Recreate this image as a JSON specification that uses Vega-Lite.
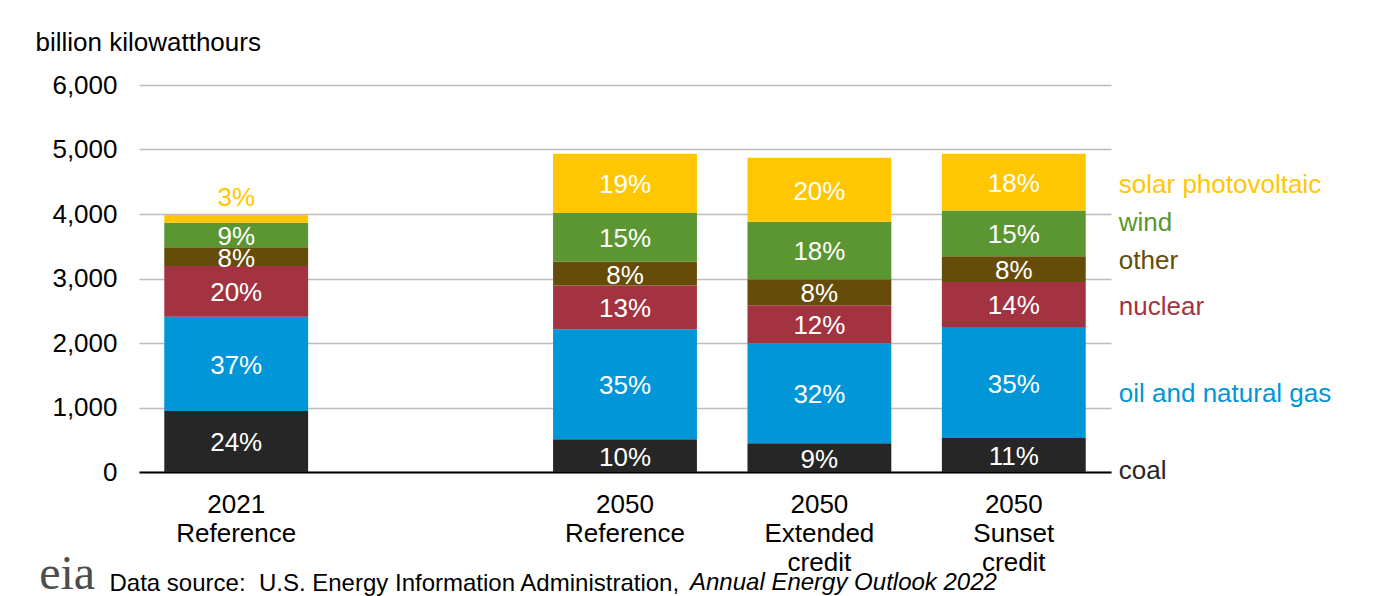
{
  "$schema": "https://vega.github.io/schema/vega-lite/v6.json",
  "autosize": {"type": "none"},
  "padding": {"left": 139, "top": 85, "right": 265, "bottom": 124},
  "width": 972,
  "height": 387,
  "background": "#ffffff",
  "config": {
    "font": "Liberation Sans",
    "view": {"stroke": null},
    "text": {"font": "Liberation Sans"}
  },
  "title": {
    "text": "Annual Energy Outlook 2022",
    "orient": "bottom",
    "anchor": "start",
    "frame": "group",
    "font": "Liberation Sans",
    "fontStyle": "italic",
    "fontWeight": "normal",
    "fontSize": 24,
    "color": "#000000",
    "baseline": "alphabetic",
    "offset": 0,
    "dx": 551,
    "dy": -9
  },
  "data": {
    "values": [
      {"scenario": "2021 Reference", "fuel": "coal", "order": 1, "value": 946, "pct": "24%"},
      {"scenario": "2021 Reference", "fuel": "oil and natural gas", "order": 2, "value": 1462, "pct": "37%"},
      {"scenario": "2021 Reference", "fuel": "nuclear", "order": 3, "value": 786, "pct": "20%"},
      {"scenario": "2021 Reference", "fuel": "other", "order": 4, "value": 290, "pct": "8%"},
      {"scenario": "2021 Reference", "fuel": "wind", "order": 5, "value": 381, "pct": "9%"},
      {"scenario": "2021 Reference", "fuel": "solar photovoltaic", "order": 6, "value": 119, "pct": "3%"},
      {"scenario": "2050 Reference", "fuel": "coal", "order": 1, "value": 506, "pct": "10%"},
      {"scenario": "2050 Reference", "fuel": "oil and natural gas", "order": 2, "value": 1708, "pct": "35%"},
      {"scenario": "2050 Reference", "fuel": "nuclear", "order": 3, "value": 676, "pct": "13%"},
      {"scenario": "2050 Reference", "fuel": "other", "order": 4, "value": 372, "pct": "8%"},
      {"scenario": "2050 Reference", "fuel": "wind", "order": 5, "value": 752, "pct": "15%"},
      {"scenario": "2050 Reference", "fuel": "solar photovoltaic", "order": 6, "value": 919, "pct": "19%"},
      {"scenario": "2050 Extended credit", "fuel": "coal", "order": 1, "value": 444, "pct": "9%"},
      {"scenario": "2050 Extended credit", "fuel": "oil and natural gas", "order": 2, "value": 1548, "pct": "32%"},
      {"scenario": "2050 Extended credit", "fuel": "nuclear", "order": 3, "value": 593, "pct": "12%"},
      {"scenario": "2050 Extended credit", "fuel": "other", "order": 4, "value": 403, "pct": "8%"},
      {"scenario": "2050 Extended credit", "fuel": "wind", "order": 5, "value": 893, "pct": "18%"},
      {"scenario": "2050 Extended credit", "fuel": "solar photovoltaic", "order": 6, "value": 990, "pct": "20%"},
      {"scenario": "2050 Sunset credit", "fuel": "coal", "order": 1, "value": 526, "pct": "11%"},
      {"scenario": "2050 Sunset credit", "fuel": "oil and natural gas", "order": 2, "value": 1723, "pct": "35%"},
      {"scenario": "2050 Sunset credit", "fuel": "nuclear", "order": 3, "value": 697, "pct": "14%"},
      {"scenario": "2050 Sunset credit", "fuel": "other", "order": 4, "value": 398, "pct": "8%"},
      {"scenario": "2050 Sunset credit", "fuel": "wind", "order": 5, "value": 712, "pct": "15%"},
      {"scenario": "2050 Sunset credit", "fuel": "solar photovoltaic", "order": 6, "value": 877, "pct": "18%"}
    ]
  },
  "transform": [
    {"stack": "value", "groupby": ["scenario"], "sort": [{"field": "order", "order": "ascending"}], "as": ["y0", "y1"]},
    {"calculate": "(datum.y0 + datum.y1) / 2", "as": "ymid"},
    {"calculate": "datum.y1 - datum.y0", "as": "seg"}
  ],
  "encoding": {
    "x": {
      "field": "scenario",
      "type": "nominal",
      "scale": {
        "domain": ["2021 Reference", "_gap", "2050 Reference", "2050 Extended credit", "2050 Sunset credit"],
        "paddingInner": 0.26,
        "paddingOuter": 0.13
      },
      "axis": {
        "title": "Data source:\u00a0 U.S. Energy Information Administration,",
        "titleFont": "Liberation Sans",
        "titleFontSize": 24,
        "titleFontWeight": "normal",
        "titleColor": "#000000",
        "titleX": -30,
        "titleY": 118,
        "titleAlign": "left",
        "titleAnchor": "start",
        "titleBaseline": "alphabetic",
        "labelAngle": 0,
        "labelExpr": "datum.value == '_gap' ? '' : split(datum.value, ' ')",
        "labelFont": "Liberation Sans",
        "labelFontSize": 26,
        "labelColor": "#000000",
        "labelLineHeight": 29,
        "labelPadding": 19,
        "labelBaseline": "top",
        "ticks": false,
        "tickSize": 0,
        "domainColor": "#000000",
        "domainWidth": 2,
        "grid": false
      }
    }
  },
  "layer": [
    {
      "mark": {"type": "bar"},
      "encoding": {
        "y": {
          "field": "y0",
          "type": "quantitative",
          "scale": {"domain": [0, 6000], "nice": false},
          "axis": {
            "values": [0, 1000, 2000, 3000, 4000, 5000, 6000],
            "format": ",d",
            "title": "billion kilowatthours",
            "titleAngle": 0,
            "titleAlign": "left",
            "titleBaseline": "middle",
            "titleX": -104,
            "titleY": -43,
            "titleFont": "Liberation Sans",
            "titleFontSize": 26,
            "titleFontWeight": "normal",
            "titleColor": "#000000",
            "labelFont": "Liberation Sans",
            "labelFontSize": 26,
            "labelColor": "#000000",
            "labelPadding": 22,
            "ticks": false,
            "tickSize": 0,
            "domain": false,
            "grid": true,
            "gridColor": "#BDBDBD",
            "gridWidth": 1.5
          }
        },
        "y2": {"field": "y1"},
        "color": {
          "field": "fuel",
          "type": "nominal",
          "scale": {
            "domain": ["coal", "oil and natural gas", "nuclear", "other", "wind", "solar photovoltaic"],
            "range": ["#262626", "#0096D7", "#A33340", "#654D09", "#5B9632", "#FFC702"]
          },
          "legend": null
        }
      }
    },
    {
      "transform": [{"filter": "datum.seg >= 200"}],
      "mark": {"type": "text", "fontSize": 26, "color": "#FFFFFF", "baseline": "middle", "align": "center", "dy": 2},
      "encoding": {
        "y": {"field": "ymid", "type": "quantitative"},
        "text": {"field": "pct"}
      }
    },
    {
      "transform": [{"filter": "datum.seg < 200"}],
      "mark": {"type": "text", "fontSize": 26, "baseline": "middle", "align": "center", "dy": -17},
      "encoding": {
        "y": {"field": "y1", "type": "quantitative"},
        "text": {"field": "pct"},
        "color": {"field": "fuel", "type": "nominal", "legend": null}
      }
    },
    {
      "transform": [{"filter": "datum.scenario == '2050 Sunset credit' && (datum.fuel == 'solar photovoltaic' || datum.fuel == 'nuclear')"}],
      "mark": {"type": "text", "fontSize": 26, "baseline": "middle", "align": "left", "dx": 105, "dy": 2.5},
      "encoding": {
        "y": {"field": "ymid", "type": "quantitative"},
        "text": {"field": "fuel"},
        "color": {"field": "fuel", "type": "nominal", "legend": null}
      }
    },
    {
      "transform": [{"filter": "datum.scenario == '2050 Sunset credit' && datum.fuel == 'wind'"}],
      "mark": {"type": "text", "fontSize": 26, "baseline": "middle", "align": "left", "dx": 105, "dy": -10},
      "encoding": {
        "y": {"field": "ymid", "type": "quantitative"},
        "text": {"field": "fuel"},
        "color": {"field": "fuel", "type": "nominal", "legend": null}
      }
    },
    {
      "transform": [{"filter": "datum.scenario == '2050 Sunset credit' && datum.fuel == 'other'"}],
      "mark": {"type": "text", "fontSize": 26, "baseline": "middle", "align": "left", "dx": 105, "dy": -8},
      "encoding": {
        "y": {"field": "ymid", "type": "quantitative"},
        "text": {"field": "fuel"},
        "color": {"field": "fuel", "type": "nominal", "legend": null}
      }
    },
    {
      "transform": [{"filter": "datum.scenario == '2050 Sunset credit' && datum.fuel == 'oil and natural gas'"}],
      "mark": {"type": "text", "fontSize": 26, "baseline": "middle", "align": "left", "dx": 105, "dy": 11.5},
      "encoding": {
        "y": {"field": "ymid", "type": "quantitative"},
        "text": {"field": "fuel"},
        "color": {"field": "fuel", "type": "nominal", "legend": null}
      }
    },
    {
      "transform": [{"filter": "datum.scenario == '2050 Sunset credit' && datum.fuel == 'coal'"}],
      "mark": {"type": "text", "fontSize": 26, "baseline": "middle", "align": "left", "dx": 105, "dy": 16},
      "encoding": {
        "y": {"field": "ymid", "type": "quantitative"},
        "text": {"field": "fuel"},
        "color": {"field": "fuel", "type": "nominal", "legend": null}
      }
    },
    {
      "data": {"values": [{"logo": "eia"}]},
      "transform": [],
      "mark": {"type": "text", "font": "Liberation Serif", "fontSize": 48, "color": "#4D4D4D", "baseline": "alphabetic", "align": "center", "dx": -169, "dy": 117},
      "encoding": {
        "x": {"datum": "2021 Reference", "type": "nominal"},
        "y": {"datum": 0, "type": "quantitative"},
        "text": {"field": "logo"}
      }
    }
  ]
}
